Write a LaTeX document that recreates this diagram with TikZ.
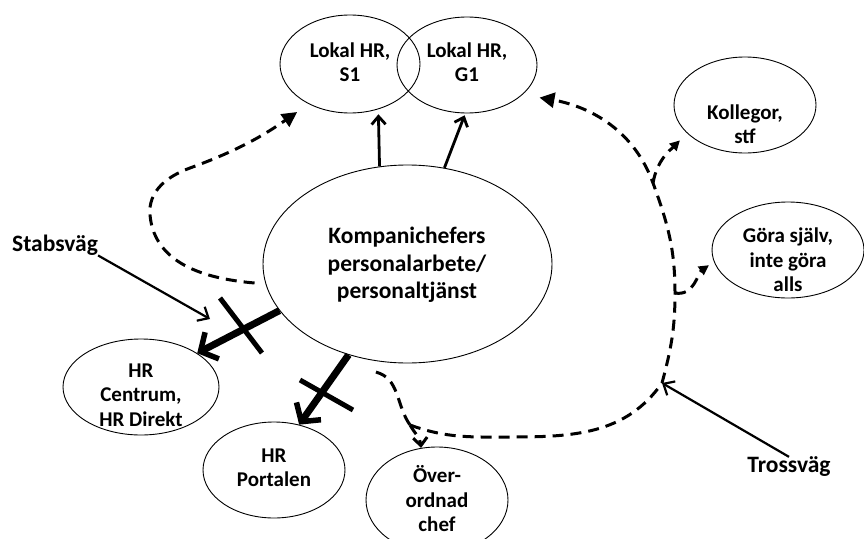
\documentclass[tikz,border=0pt]{standalone}
\usepackage{fontspec}
\setmainfont{Carlito}
\usetikzlibrary{shapes.geometric,arrows.meta}
\begin{document}
\begin{tikzpicture}[x=1pt,y=-1pt,
  ell/.style={draw,ellipse,line width=0.9pt,inner sep=0pt},
  txt/.style={font=\fontsize{21}{24.5}\selectfont\bfseries,align=center,inner sep=0pt},
  bigtxt/.style={font=\fontsize{23.5}{27.5}\selectfont\bfseries,align=center,inner sep=0pt},
  lbl/.style={font=\fontsize{23.5}{26}\selectfont\bfseries,inner sep=0pt},
  dsh/.style={line width=3pt,dash pattern=on 11pt off 7pt},
  tri/.style={-{Triangle[length=15pt,width=15pt]}},
  smalltri/.style={-{Triangle[length=10pt,width=10pt]}},
  solidarr/.style={line width=2.8pt,-{Straight Barb[length=8pt,width=14pt,line width=2.8pt]}},
  thinarr/.style={line width=2.2pt,-{Straight Barb[length=9pt,width=16pt,line width=2.2pt]}},
  thickarr/.style={line width=7pt,-{Straight Barb[length=13pt,width=30pt,line width=5.5pt]}},
  crossline/.style={line width=5pt},
]
\useasboundingbox (0,0) rectangle (864,538);

% ellipses
\node[ell,minimum width=140pt,minimum height=98pt] (s1) at (350,64) {};
\node[txt] (s1t) at (350,62) {Lokal HR,\\S1};
\node[ell,minimum width=140pt,minimum height=96pt] (g1) at (467,65) {};
\node[txt] (g1t) at (467,62) {Lokal HR,\\G1};
\node[ell,minimum width=289pt,minimum height=198pt] (big) at (407.5,264) {};
\node[bigtxt] (bigt) at (407,265) {Kompanichefers\\personalarbete/\\personaltjänst};
\node[ell,minimum width=156pt,minimum height=96pt] (hrc) at (141,387) {};
\node[txt] (hrct) at (141,395) {HR\\Centrum,\\HR Direkt};
\node[ell,minimum width=142pt,minimum height=96pt] (hrp) at (274,470) {};
\node[txt] (hrpt) at (274,468) {HR\\Portalen};
\node[ell,minimum width=142pt,minimum height=106pt] (ov) at (437,500) {};
\node[txt] (ovt) at (437,499) {Över-\\ordnad\\chef};
\node[ell,minimum width=142pt,minimum height=96pt] (kol) at (745,105) {};
\node[txt] (kolt) at (745,124) {Kollegor,\\stf};
\node[ell,minimum width=152pt,minimum height=96pt] (gor) at (788,250) {};
\node[txt] (gort) at (788,260) {Göra själv,\\inte göra\\alls};

\node[lbl] (stab) at (55,245) {Stabsväg};
\node[lbl] (tross) at (789,467) {Trossväg};

% coordinates on the dashed routes
\coordinate (jb) at (410,425);
\coordinate (j3) at (662,383);
\coordinate (j5) at (675,293);
\coordinate (j4) at (653,183);
\coordinate (stabend) at (210,319);

% solid arrows to local HR
\draw[solidarr,shorten >=5pt] (big.106) -- (s1.-58);
\draw[solidarr,shorten >=2pt] (big.69) -- (g1.-92);

% thick crossed arrows
\draw[thickarr] (big.200) -- (hrc.31);
\draw[crossline] (220,298) -- (262,353);
\draw[thickarr] (big.237) -- (hrp.61);
\draw[crossline] (300,380) -- (353,410);

% Stabsväg and Trossväg
\draw[thinarr] (stab.south east) -- (stabend);
\draw[thinarr] (tross.north) -- (j3);

% dashed routes
\draw[dsh,tri,shorten <=11pt,shorten >=14pt] (big.188) to[out=175,in=-85] (150,215)
   to[out=95,in=200] (190,168) to[out=20,in=215] (s1.-136);
\draw[dsh] (big.252) ++(0,11) to[out=-15,in=125] (jb);
\draw[dsh,-{Straight Barb[length=8pt,width=14pt,line width=3pt]}] (jb) to[out=-60,in=95] (ov.107);
\draw[dsh,tri,shorten >=17pt] (jb) to[out=-20,in=180] (510,437) to[out=0,in=-125] (j3)
   to[out=75,in=-90] (j5) to[out=90,in=-70] (j4) to[out=110,in=-10] (g1.-28);
\draw[dsh,smalltri,shorten >=10pt] (j4) to[out=80,in=225] (kol.-154);
\draw[dsh,smalltri,shorten >=6pt] (j5) to[out=-10,in=215] (gor.-171);
\end{tikzpicture}
\end{document}
